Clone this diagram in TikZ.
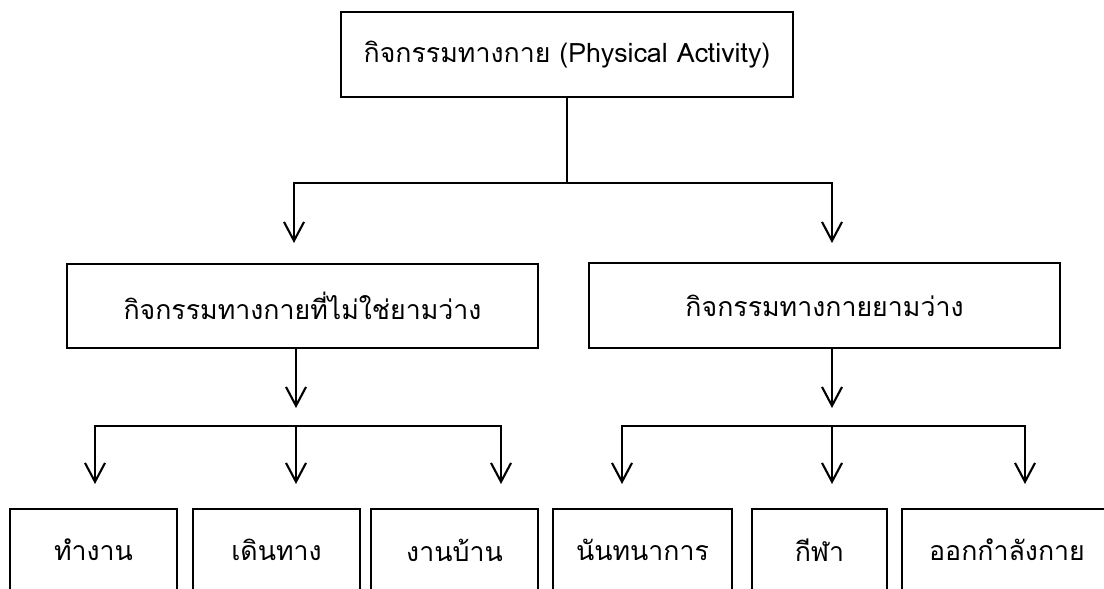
\documentclass[tikz,border=0pt]{standalone}
\usepackage{fontspec}
\setmainfont[Script=Thai]{Loma}
\usetikzlibrary{arrows.meta}
\tikzset{box/.style={draw=fg, line width=1.3pt, inner sep=0pt, align=center},
         link/.style={draw=fg, line width=1.5pt},
         arr/.style={link, -{Straight Barb[length=0.47cm, width=0.5cm, line width=1.5pt]}}}
\colorlet{fg}{black}

\begin{document}
\begin{tikzpicture}[x=0.025cm, y=-0.025cm, font=\fontsize{19}{22}\selectfont]
        \useasboundingbox (0,0) rectangle (1104,589);

        % top
        \node[box, minimum width=11.3cm, minimum height=2.125cm] (pa) at (567,54.5) {กิจกรรมทางกาย (Physical Activity)};

        % middle
        \node[box, minimum width=11.775cm, minimum height=2.1cm] (nla) at (302.5,306) {กิจกรรมทางกายที่ไม่ใช่ยามว่าง};
        \node[box, minimum width=11.775cm, minimum height=2.125cm] (la) at (824.5,305.5) {กิจกรรมทางกายยามว่าง};

        % bottom
        \node[box, minimum width=4.175cm, minimum height=2.05cm] (work) at (93.5,550) {ทำงาน};
        \node[box, minimum width=4.175cm, minimum height=2.05cm] (travel) at (276.5,550) {เดินทาง};
        \node[box, minimum width=4.175cm, minimum height=2.05cm] (house) at (454.5,550) {งานบ้าน};
        \node[box, minimum width=4.475cm, minimum height=2.05cm] (recr) at (642.5,550) {นันทนาการ};
        \node[box, minimum width=3.375cm, minimum height=2.05cm] (sport) at (819.5,550) {กีฬา};
        \node[box, minimum width=5.25cm, minimum height=2.05cm] (exer) at (1007,550) {ออกกำลังกาย};

        % top -> middle
        \coordinate (hl) at (294,183);
        \coordinate (tl) at (294,243);
        \coordinate (tr) at (832,243);
        \draw[link] (pa.south) -- (pa.south |- hl);
        \draw[arr] (pa.south |- hl) -| (tl);
        \draw[arr] (pa.south |- hl) -| (tr);

        % middle -> bottom
        \coordinate (ml) at (296,408);
        \coordinate (mr) at (832,408);
        \draw[arr] (nla.south -| ml) -- (ml);
        \draw[arr] (la.south -| mr) -- (mr);
        \coordinate (bl) at (296,426);
        \coordinate (br) at (832,426);
        \foreach \x in {95,296,501}
          \draw[arr] (bl) -| (\x,484);
        \foreach \x in {622,832,1025}
          \draw[arr] (br) -| (\x,484);
      \end{tikzpicture}
\end{document}
